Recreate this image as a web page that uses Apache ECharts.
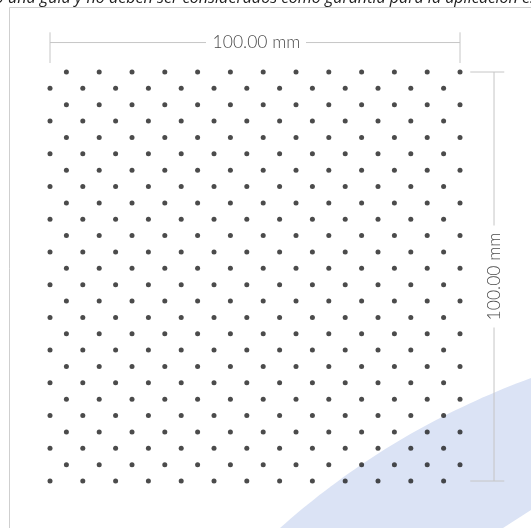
<!DOCTYPE html>
<html>
<head>
<meta charset="utf-8">
<script src="https://cdn.jsdelivr.net/npm/echarts@6/dist/echarts.min.js"></script>
<style>
html,body{margin:0;padding:0;background:#fff;}
#c{width:531px;height:528px;}
</style>
</head>
<body>
<div id="c"></div>
<script>
// Row positions (mm, from top) and column positions (mm) for the staggered dot pattern
var rowsY = [0,4,8,12,16,20,24,28,32,36,40,44,48,52,56,60,64,68,72,76,80,84,88,92,96,100];
var colsA = [4,12,20,28,36,44,52,60,68,76,84,92,100];   // rows 1,3,5,... (offset rows)
var colsB = [0,8,16,24,32,40,48,56,64,72,80,88,96];     // rows 2,4,6,...
var widthLabel = '100.00 mm';
var heightLabel = '100.00 mm';
var noteBefore = 'Los valores indicados son sólo';
var noteAfter = 'una guía y no deben ser considerados como garantía para la aplicación específica.';

var dots = [];
rowsY.forEach(function (y, i) {
  var cols = (i % 2 === 0) ? colsA : colsB;
  cols.forEach(function (x) { dots.push([x, y]); });
});

var chart = echarts.init(document.getElementById('c'), null, {renderer: 'canvas'});
chart.setOption({
  animation: false,
  backgroundColor: '#ffffff',
  grid: {left: 50, top: 72, width: 410, height: 409},
  xAxis: {type: 'value', min: 0, max: 100, show: false},
  yAxis: {type: 'value', min: 0, max: 100, inverse: true, show: false},
  series: [{
    type: 'scatter',
    data: dots,
    symbol: 'circle',
    symbolSize: 5,
    itemStyle: {color: '#1e1e1e'},
    clip: false,
    z: 5
  }]
});

function P(x, y) { return chart.convertToPixel({gridIndex: 0}, [x, y]); }
var lc = '#c6c6c6';
var g = [];
function line(a, b, z) {
  g.push({type: 'line', shape: {x1: a[0], y1: a[1], x2: b[0], y2: b[1]},
    style: {stroke: lc, lineWidth: 1}, z: z || 10, silent: true});
}
// decorative background shape (quadratic curve edge sampled into a polygon)
var shapePts = [];
for (var k = 0; k <= 40; k++) {
  var t = k / 40;
  var bx = (1 - t) * (1 - t) * 280 + 2 * (1 - t) * t * 390 + t * t * 531;
  var by = (1 - t) * (1 - t) * 528 + 2 * (1 - t) * t * 430 + t * t * 378;
  shapePts.push([bx, by]);
}
shapePts.push([531, 510], [503, 528]);
g.push({type: 'polygon', z: 0, silent: true, shape: {points: shapePts},
  style: {fill: '#dbe3f5'}});
// page frame
g.push({type: 'rect', z: 1, silent: true, shape: {x: 9.5, y: 7.5, width: 600, height: 600},
  style: {fill: null, stroke: '#cfcfcf', lineWidth: 1}});
// header note (cut at top)
g.push({type: 'text', z: 20, silent: true, x: 3.5, y: -1.5,
  style: {text: noteBefore, align: 'right', verticalAlign: 'middle', font: 'italic 16.1px "Open Sans"', fill: '#1e1e1e'}});
g.push({type: 'text', z: 20, silent: true, x: 8, y: -1.5,
  style: {text: noteAfter, align: 'left', verticalAlign: 'middle', font: 'italic 16.1px "Open Sans"', fill: '#1e1e1e'}});

// horizontal dimension
var hy = -7.2, ht1 = -9.7, ht2 = -2.2;
var L = P(0, hy), R = P(100, hy);
var midX = (L[0] + R[0]) / 2;
line([L[0], L[1]], [midX - 49, L[1]]);
line([midX + 51, R[1]], [R[0], R[1]]);
line(P(0, ht1), P(0, ht2));
line(P(100, ht1), P(100, ht2));
g.push({type: 'text', z: 20, silent: true, x: midX + 1.5, y: L[1],
  style: {text: widthLabel, align: 'center', verticalAlign: 'middle', font: '300 17.5px Lato', fill: '#4a4a4a'}});

// vertical dimension
var vx = 108.3, vt1 = 102.5, vt2 = 110.8;
var T = P(vx, 0), B = P(vx, 100);
var midY = (T[1] + B[1]) / 2;
line([T[0], T[1]], [T[0], midY - 51]);
line([B[0], midY + 51], [B[0], B[1]]);
line(P(vt1, 0), P(vt2, 0));
line(P(vt1, 100), P(vt2, 100));
g.push({type: 'text', z: 20, silent: true, x: T[0], y: midY, rotation: Math.PI / 2,
  style: {text: heightLabel, align: 'center', verticalAlign: 'middle', font: '300 17.5px Lato', fill: '#4a4a4a'}});

chart.setOption({graphic: {elements: g}});
</script>
</body>
</html>
